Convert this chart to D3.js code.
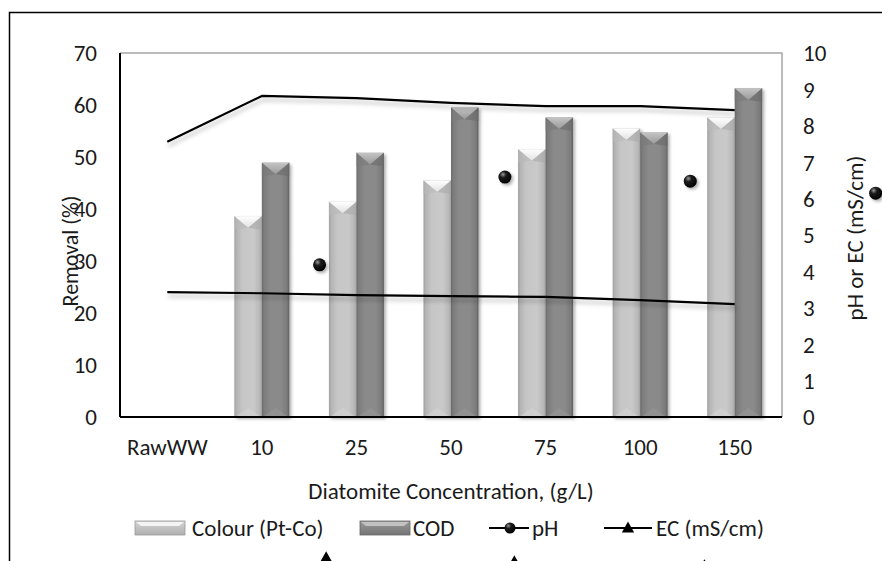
<!DOCTYPE html>
<html>
<head>
<meta charset="utf-8">
<script src="https://cdn.jsdelivr.net/npm/d3@7"></script>
<style>
  html, body { margin: 0; padding: 0; background: #fff; }
  svg { display: block; font-family: Carlito, Lato, Calibri, sans-serif; }
</style>
</head>
<body>
<svg id="chart" width="882" height="561"></svg>
<script>
// Categories (diatomite dose, g/L) and series
const categories = ["RawWW", "10", "25", "50", "75", "100", "150"];
const colourRemoval = [0, 38.6, 41.4, 45.5, 51.5, 55.5, 57.6];
const codRemoval    = [0, 48.9, 50.8, 59.5, 57.6, 54.7, 63.2];
const pHLine = [7.56, 8.82, 8.76, 8.63, 8.54, 8.54, 8.43];
const ecLine = [3.43, 3.40, 3.35, 3.32, 3.30, 3.21, 3.10];
// Marker series drawn at fractional category positions
const pHMarkerPos = [1.61, 3.57, 5.53, 7.49];
const pHMarkerVal = [4.18, 6.59, 6.48, 6.15];
const ecMarkerPos = [1.68, 3.67, 5.68];
const ecMarkerVal = [-3.88, -3.99, -4.10];
const leftTicks = [0, 10, 20, 30, 40, 50, 60, 70];
const rightTicks = [0, 1, 2, 3, 4, 5, 6, 7, 8, 9, 10];
const barSeries = ["Colour (Pt-Co)", "COD"];

const FONT = "Carlito, Lato, Calibri, sans-serif";
const FS = 23;
const fontCol = "#1a1a1a";

const svg = d3.select("#chart");
const plot = { left: 120, right: 782, top: 53, bottom: 417 };

const x = d3.scaleBand().domain(categories).range([plot.left, plot.right]).padding(0);
const xInner = d3.scaleBand().domain(barSeries).range([0, x.bandwidth()])
  .paddingInner(0).paddingOuter(0.72);
const yL = d3.scaleLinear().domain([0, 70]).range([plot.bottom, plot.top]);
const yR = d3.scaleLinear().domain([0, 10]).range([plot.bottom, plot.top]);
const xIdx = d3.scaleLinear().domain([0, categories.length - 1])
  .range([x(categories[0]) + x.bandwidth() / 2, x(categories[categories.length - 1]) + x.bandwidth() / 2]);

const defs = svg.append("defs");
function hGrad(id, stops) {
  const g = defs.append("linearGradient").attr("id", id).attr("x1", 0).attr("x2", 1).attr("y1", 0).attr("y2", 0);
  stops.forEach(s => g.append("stop").attr("offset", s[0]).attr("stop-color", s[1]));
}
function vGrad(id, stops) {
  const g = defs.append("linearGradient").attr("id", id).attr("x1", 0).attr("x2", 0).attr("y1", 0).attr("y2", 1);
  stops.forEach(s => g.append("stop").attr("offset", s[0]).attr("stop-color", s[1]));
}
hGrad("gLight", [[0, "#9e9e9e"], [0.08, "#b4b4b4"], [0.3, "#c6c6c6"], [0.7, "#c9c9c9"], [0.92, "#b8b8b8"], [1, "#a4a4a4"]]);
hGrad("gDark", [[0, "#6a6a6a"], [0.08, "#7c7c7c"], [0.3, "#8a8a8a"], [0.7, "#8a8a8a"], [0.92, "#7a7a7a"], [1, "#5e5e5e"]]);
vGrad("gLightTop", [[0, "#ffffff"], [1, "#e2e2e2"]]);
vGrad("gDarkTop", [[0, "#c4c4c4"], [1, "#9a9a9a"]]);
vGrad("gSwLight", [[0, "#d4d4d4"], [1, "#b0b0b0"]]);
vGrad("gSwDark", [[0, "#9a9a9a"], [1, "#747474"]]);
const rg = defs.append("radialGradient").attr("id", "gBall").attr("cx", 0.35).attr("cy", 0.3).attr("r", 0.7);
rg.append("stop").attr("offset", 0).attr("stop-color", "#9a9a9a");
rg.append("stop").attr("offset", 0.35).attr("stop-color", "#1c1c1c");
rg.append("stop").attr("offset", 1).attr("stop-color", "#000");

const shadow = defs.append("filter").attr("id", "shadow").attr("x", "-30%").attr("y", "-30%").attr("width", "160%").attr("height", "160%");
shadow.append("feDropShadow").attr("dx", 2).attr("dy", 2).attr("stdDeviation", 1.8)
  .attr("flood-color", "#000").attr("flood-opacity", 0.3);
const lineShadow = defs.append("filter").attr("id", "lineShadow").attr("x", "-5%").attr("y", "-50%").attr("width", "110%").attr("height", "300%");
lineShadow.append("feDropShadow").attr("dx", 1).attr("dy", 4).attr("stdDeviation", 2)
  .attr("flood-color", "#000").attr("flood-opacity", 0.25);

// Outer chart frame
svg.append("path").attr("d", "M9.5,561 V12.5 H882")
  .attr("fill", "none").attr("stroke", "#000").attr("stroke-width", 1.5);

// Plot area border (top & right)
svg.append("path").attr("d", `M${plot.left},${plot.top} H${plot.right} V${plot.bottom}`)
  .attr("fill", "none").attr("stroke", "#a6a6a6").attr("stroke-width", 1.5);

// Bars
const barData = [];
categories.forEach((c, i) => {
  barData.push({ cat: c, s: barSeries[0], v: colourRemoval[i], light: true });
  barData.push({ cat: c, s: barSeries[1], v: codRemoval[i], light: false });
});
const bars = svg.append("g").selectAll("g").data(barData.filter(d => d.v > 0)).join("g")
  .attr("filter", "url(#shadow)");
bars.each(function (d) {
  const g = d3.select(this);
  const bx = x(d.cat) + xInner(d.s);
  const w = xInner.bandwidth();
  const y0 = yL(d.v), y1 = yL(0);
  const hb = Math.min(w * 0.42, (y1 - y0) / 2);
  g.append("rect").attr("x", bx).attr("y", y0).attr("width", w).attr("height", y1 - y0)
    .attr("fill", d.light ? "url(#gLight)" : "url(#gDark)");
  // bevelled top
  g.append("path").attr("d", `M${bx},${y0} L${bx + w},${y0} L${bx + w / 2},${y0 + hb} Z`)
    .attr("fill", d.light ? "url(#gLightTop)" : "url(#gDarkTop)");
  g.append("path").attr("d", `M${bx},${y0} L${bx + w / 2},${y0 + hb} L${bx},${y0 + hb + 2} Z`)
    .attr("fill", d.light ? "#b9b9b9" : "#7a7a7a").attr("opacity", 0.6);
  g.append("path").attr("d", `M${bx + w},${y0} L${bx + w / 2},${y0 + hb} L${bx + w},${y0 + hb + 2} Z`)
    .attr("fill", d.light ? "#aaaaaa" : "#6a6a6a").attr("opacity", 0.6);
  // bevelled bottom
  g.append("path").attr("d", `M${bx + 1},${y1} L${bx + w / 2},${y1 - hb * 0.8} L${bx + w - 1},${y1} Z`)
    .attr("fill", d.light ? "#d2d2d2" : "#949494").attr("opacity", 0.7);
});

// Axis lines (left & bottom)
svg.append("line").attr("x1", plot.left).attr("x2", plot.left).attr("y1", plot.top).attr("y2", plot.bottom)
  .attr("stroke", "#000").attr("stroke-width", 2);
svg.append("line").attr("x1", plot.left).attr("x2", plot.right).attr("y1", plot.bottom).attr("y2", plot.bottom)
  .attr("stroke", "#000").attr("stroke-width", 2);

// Lines
const lineGen = d3.line().x((d, i) => x(categories[i]) + x.bandwidth() / 2).y(d => yR(d));
[pHLine, ecLine].forEach(arr => {
  svg.append("path").datum(arr).attr("d", lineGen)
    .attr("fill", "none").attr("stroke", "#000").attr("stroke-width", 2.2)
    .attr("stroke-linejoin", "round").attr("filter", "url(#lineShadow)");
});

// Axes with tick labels
const axL = d3.axisLeft(yL).tickValues(leftTicks).tickSize(0).tickPadding(23);
const gL = svg.append("g").attr("transform", `translate(${plot.left},0)`).call(axL);
const axR = d3.axisRight(yR).tickValues(rightTicks).tickSize(0).tickPadding(21);
const gR = svg.append("g").attr("transform", `translate(${plot.right},0)`).call(axR);
const axB = d3.axisBottom(x).tickSize(0);
const gB = svg.append("g").attr("transform", `translate(0,${plot.bottom})`).call(axB);
[gL, gR, gB].forEach(g => {
  g.select(".domain").remove();
  g.selectAll("text").attr("font-size", FS).attr("fill", fontCol).style("font-family", FONT);
});
gL.selectAll("text").attr("dy", "0.34em");
gR.selectAll("text").attr("dy", "0.34em");
gB.selectAll("text").attr("y", 38).attr("dy", 0);

// Axis titles
svg.append("text").attr("x", 451).attr("y", 499).attr("text-anchor", "middle")
  .attr("font-size", FS).attr("fill", fontCol).text("Diatomite Concentration, (g/L)");
svg.append("text").attr("transform", "translate(78,251) rotate(-90)").attr("text-anchor", "middle")
  .attr("font-size", 22).attr("fill", fontCol).text("Removal (%)");
svg.append("text").attr("transform", "translate(863,238) rotate(-90)").attr("text-anchor", "middle")
  .attr("font-size", FS).attr("fill", fontCol).text("pH or EC (mS/cm)");

// Scattered marker series
svg.append("g").selectAll("circle").data(pHMarkerPos).join("circle")
  .attr("cx", d => xIdx(d)).attr("cy", (d, i) => yR(pHMarkerVal[i])).attr("r", 6.5)
  .attr("fill", "url(#gBall)").attr("filter", "url(#shadow)");
const tri = (cx, cy, s) => `M${cx},${cy - s} L${cx + s * 0.95},${cy + s * 0.7} L${cx - s * 0.95},${cy + s * 0.7} Z`;
svg.append("g").selectAll("path").data(ecMarkerPos).join("path")
  .attr("d", (d, i) => tri(xIdx(d), yR(ecMarkerVal[i]), 7))
  .attr("fill", "#000");

// Legend
const lg = svg.append("g");
const ly = 528;
function swatch(x0, w, light) {
  lg.append("rect").attr("x", x0).attr("y", ly - 7).attr("width", w).attr("height", 14)
    .attr("fill", light ? "url(#gSwLight)" : "url(#gSwDark)").attr("stroke", light ? "#9a9a9a" : "#666").attr("stroke-width", 0.8);
  lg.append("path").attr("d", `M${x0 + 1},${ly - 6} H${x0 + w - 1} L${x0 + w - 6},${ly - 2} H${x0 + 6} Z`)
    .attr("fill", light ? "#f4f4f4" : "#c2c2c2");
}
const legendText = (tx, t) => lg.append("text").attr("x", tx).attr("y", ly + 8)
  .attr("font-size", FS).attr("fill", fontCol).text(t);
swatch(135, 50, true);
legendText(192, barSeries[0]);
swatch(360, 50, false);
legendText(413, barSeries[1]);
lg.append("line").attr("x1", 489).attr("x2", 529).attr("y1", ly).attr("y2", ly).attr("stroke", "#000").attr("stroke-width", 2.2);
lg.append("circle").attr("cx", 510).attr("cy", ly).attr("r", 5.5).attr("fill", "url(#gBall)");
legendText(532, "pH");
lg.append("line").attr("x1", 604).attr("x2", 652).attr("y1", ly).attr("y2", ly).attr("stroke", "#000").attr("stroke-width", 2.2);
lg.append("path").attr("d", tri(628, ly, 6.5)).attr("fill", "#000");
legendText(656, "EC (mS/cm)");
</script>
</body>
</html>
